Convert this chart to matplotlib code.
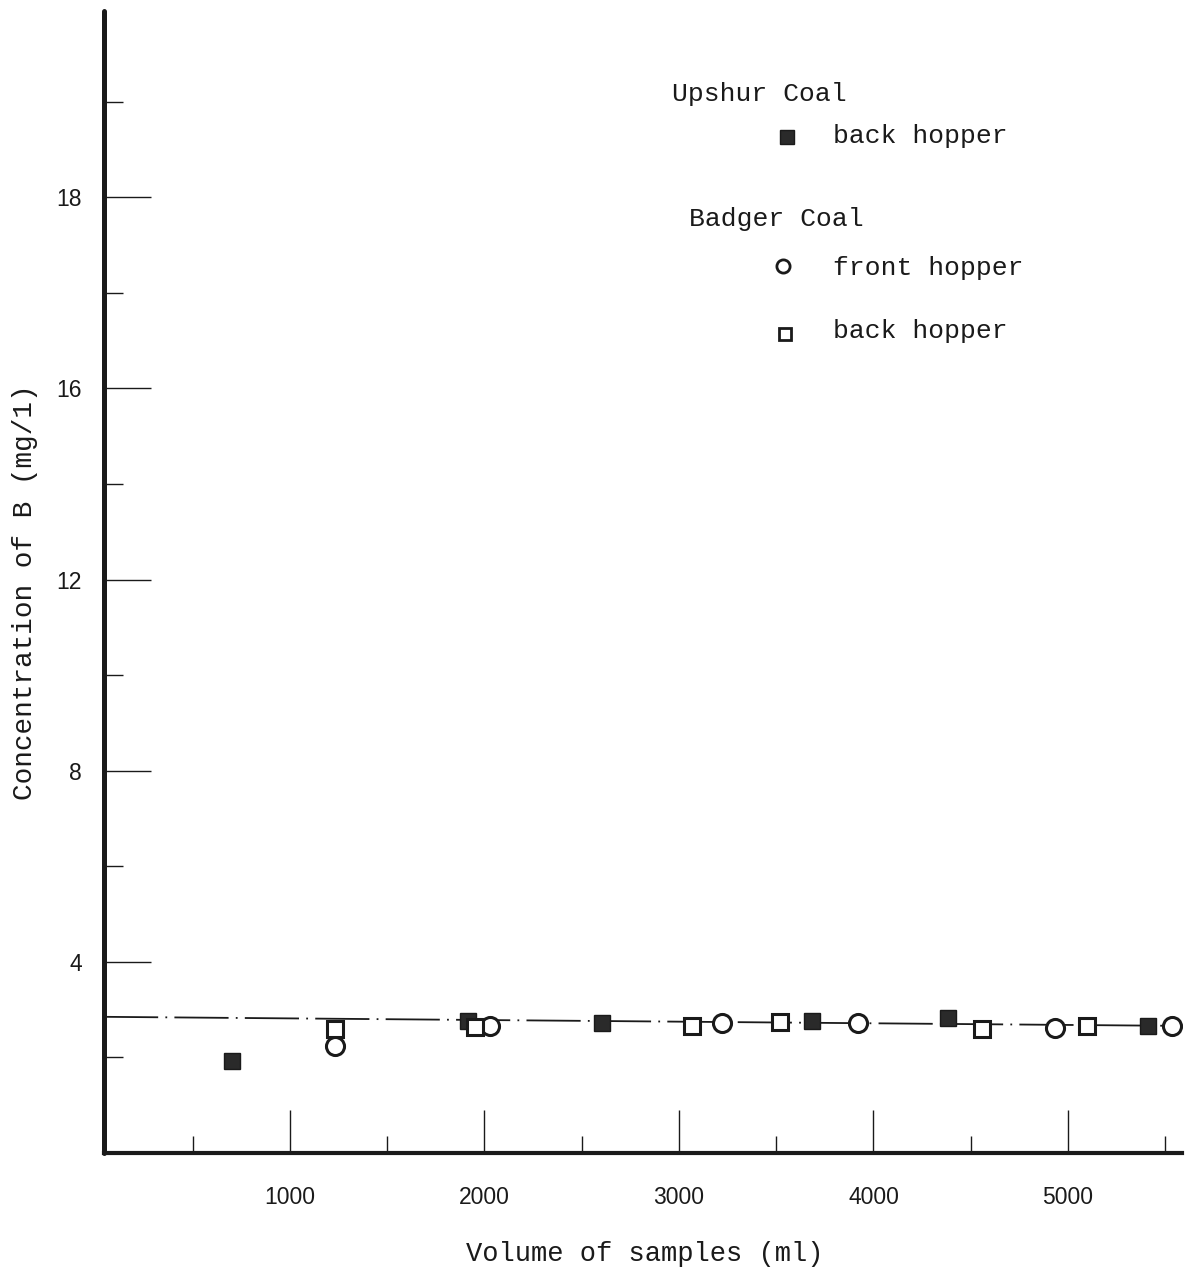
import matplotlib
matplotlib.use("Agg")
import matplotlib.pyplot as plt
from matplotlib.lines import Line2D

# boron concentration vs. sample volume
upshur_back_vol = [702, 1915, 2604, 3684, 4383, 5411]
upshur_back_b = [1.93, 2.76, 2.72, 2.76, 2.83, 2.66]

badger_front_vol = [1231, 2028, 3221, 3920, 4933, 5535]
badger_front_b = [2.24, 2.66, 2.72, 2.72, 2.62, 2.66]

badger_back_vol = [1231, 1951, 3067, 3519, 4558, 5098]
badger_back_b = [2.60, 2.64, 2.66, 2.74, 2.60, 2.66]

# dash-dot trend line ends
trend_vol = [44, 5586]
trend_b = [2.85, 2.66]

y_ticks = [4, 8, 12, 16, 20]
y_tick_labels = ["4", "8", "12", "16", "18"]
y_minor = [2, 6, 10, 14, 18, 22]
x_ticks = [1000, 2000, 3000, 4000, 5000]
x_minor = [500, 1500, 2500, 3500, 4500, 5500]

W, H = 1186, 1278
fig = plt.figure(figsize=(W / 100, H / 100), dpi=100)
ax = fig.add_axes([104 / W, 1 - 1153 / H, (1182 - 104) / W, (1153 - 11) / H])

mono = "Liberation Mono"
num = "Liberation Sans"
ink = "#1a1a1a"

ax.plot(trend_vol, trend_b, color=ink, lw=1.3, linestyle=(0, (30, 4, 1, 4)), zorder=1)
ax.plot(upshur_back_vol, upshur_back_b, "s", ms=12, color="#2a2a2a", mec=ink, mew=1, zorder=3)
ax.plot(badger_front_vol, badger_front_b, "o", ms=13, mfc="white", mec=ink, mew=2.2, zorder=3)
ax.plot(badger_back_vol, badger_back_b, "s", ms=12, mfc="white", mec=ink, mew=2.2, zorder=3)

ax.set_xlim(44, 5586)
ax.set_ylim(0, 23.9)

ax.spines["top"].set_visible(False)
ax.spines["right"].set_visible(False)
ax.spines["left"].set_linewidth(3.6)
ax.spines["bottom"].set_linewidth(3.0)
ax.spines["left"].set_color(ink)
ax.spines["bottom"].set_color(ink)
ax.spines["left"].set_capstyle("round")

ax.set_yticks(y_ticks)
ax.set_yticklabels(y_tick_labels, fontfamily=num, fontsize=16.5, color=ink)
ax.set_yticks(y_minor, minor=True)
ax.set_xticks(x_ticks)
ax.set_xticklabels([str(v) for v in x_ticks], fontfamily=num, fontsize=16.5, color=ink)
ax.set_xticks(x_minor, minor=True)

ax.tick_params(axis="y", which="major", direction="in", length=34, width=1.0, pad=16, colors=ink)
ax.tick_params(axis="y", which="minor", direction="in", length=14, width=1.0, colors=ink)
ax.tick_params(axis="x", which="major", direction="in", length=31, width=1.0, pad=24, colors=ink)
ax.tick_params(axis="x", which="minor", direction="in", length=12, width=1.0, colors=ink)

fig.text(25 / W, 1 - 592 / H, "Concentration of B (mg/1)", rotation=90,
         ha="center", va="center", fontfamily=mono, fontsize=20, color=ink)
fig.text(645 / W, 1 - 1254 / H, "Volume of samples (ml)",
         ha="center", va="center", fontfamily=mono, fontsize=19.5, color=ink)

# key
def key_text(px, py, s):
    fig.text(px / W, 1 - py / H, s, ha="left", va="center",
             fontfamily=mono, fontsize=19, color=ink)

def key_marker(px, py, **kw):
    fig.add_artist(Line2D([px / W], [1 - py / H], transform=fig.transFigure,
                          linestyle="none", **kw))

key_text(672, 94, "Upshur Coal")
key_marker(787, 137, marker="s", ms=10, color="#2a2a2a", mec=ink)
key_text(833, 136, "back hopper")
key_text(689, 219, "Badger Coal")
key_marker(783, 266, marker="o", ms=9.5, mfc="white", mec=ink, mew=2)
key_text(833, 268, "front hopper")
key_marker(785, 334, marker="s", ms=9, mfc="white", mec=ink, mew=2)
key_text(833, 331, "back hopper")

fig.savefig("out.png", dpi=100, facecolor="white")
